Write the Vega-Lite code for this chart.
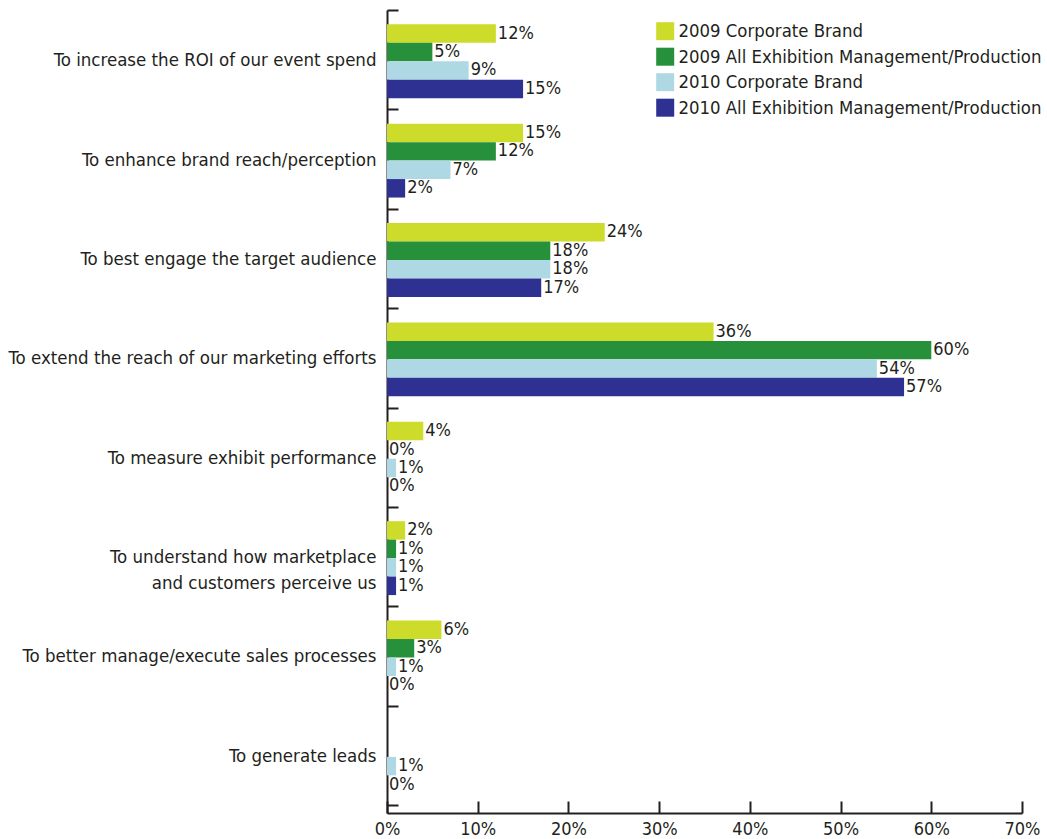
{
  "$schema": "https://vega.github.io/schema/vega-lite/v6.json",
  "autosize": {"type": "none"},
  "padding": {"left": 387, "top": 10, "right": 25, "bottom": 26},
  "width": 635,
  "height": 803,
  "background": "white",
  "config": {
    "view": {"stroke": null},
    "font": "DejaVu Sans Condensed, Roboto",
    "text": {"font": "DejaVu Sans Condensed, Roboto"}
  },
  "data": {
    "values": [
      {"category": "To increase the ROI of our event spend", "series": "2009 Corporate Brand", "pct": 0.12},
      {"category": "To increase the ROI of our event spend", "series": "2009 All Exhibition Management/Production", "pct": 0.05},
      {"category": "To increase the ROI of our event spend", "series": "2010 Corporate Brand", "pct": 0.09},
      {"category": "To increase the ROI of our event spend", "series": "2010 All Exhibition Management/Production", "pct": 0.15},
      {"category": "To enhance brand reach/perception", "series": "2009 Corporate Brand", "pct": 0.15},
      {"category": "To enhance brand reach/perception", "series": "2009 All Exhibition Management/Production", "pct": 0.12},
      {"category": "To enhance brand reach/perception", "series": "2010 Corporate Brand", "pct": 0.07},
      {"category": "To enhance brand reach/perception", "series": "2010 All Exhibition Management/Production", "pct": 0.02},
      {"category": "To best engage the target audience", "series": "2009 Corporate Brand", "pct": 0.24},
      {"category": "To best engage the target audience", "series": "2009 All Exhibition Management/Production", "pct": 0.18},
      {"category": "To best engage the target audience", "series": "2010 Corporate Brand", "pct": 0.18},
      {"category": "To best engage the target audience", "series": "2010 All Exhibition Management/Production", "pct": 0.17},
      {"category": "To extend the reach of our marketing efforts", "series": "2009 Corporate Brand", "pct": 0.36},
      {"category": "To extend the reach of our marketing efforts", "series": "2009 All Exhibition Management/Production", "pct": 0.60},
      {"category": "To extend the reach of our marketing efforts", "series": "2010 Corporate Brand", "pct": 0.54},
      {"category": "To extend the reach of our marketing efforts", "series": "2010 All Exhibition Management/Production", "pct": 0.57},
      {"category": "To measure exhibit performance", "series": "2009 Corporate Brand", "pct": 0.04},
      {"category": "To measure exhibit performance", "series": "2009 All Exhibition Management/Production", "pct": 0},
      {"category": "To measure exhibit performance", "series": "2010 Corporate Brand", "pct": 0.01},
      {"category": "To measure exhibit performance", "series": "2010 All Exhibition Management/Production", "pct": 0},
      {"category": "To understand how marketplace|and customers perceive us", "series": "2009 Corporate Brand", "pct": 0.02},
      {"category": "To understand how marketplace|and customers perceive us", "series": "2009 All Exhibition Management/Production", "pct": 0.01},
      {"category": "To understand how marketplace|and customers perceive us", "series": "2010 Corporate Brand", "pct": 0.01},
      {"category": "To understand how marketplace|and customers perceive us", "series": "2010 All Exhibition Management/Production", "pct": 0.01},
      {"category": "To better manage/execute sales processes", "series": "2009 Corporate Brand", "pct": 0.06},
      {"category": "To better manage/execute sales processes", "series": "2009 All Exhibition Management/Production", "pct": 0.03},
      {"category": "To better manage/execute sales processes", "series": "2010 Corporate Brand", "pct": 0.01},
      {"category": "To better manage/execute sales processes", "series": "2010 All Exhibition Management/Production", "pct": 0},
      {"category": "To generate leads", "series": "2010 Corporate Brand", "pct": 0.01},
      {"category": "To generate leads", "series": "2010 All Exhibition Management/Production", "pct": 0}
    ]
  },
  "encoding": {
    "y": {
      "field": "category",
      "type": "nominal",
      "sort": null,
      "scale": {"paddingInner": 0, "paddingOuter": 0.04, "align": 0},
      "axis": {
        "title": null,
        "tickBand": "extent",
        "tickSize": -11,
        "tickWidth": 2,
        "tickColor": "#231f20",
        "domainColor": "#231f20",
        "domainWidth": 2,
        "labelFontSize": 18.5,
        "labelColor": "#231f20",
        "labelPadding": 22,
        "labelLineHeight": 26,
        "labelLimit": 400,
        "labelExpr": "split(datum.label, '|')"
      }
    },
    "yOffset": {
      "field": "series",
      "type": "nominal",
      "sort": ["2009 Corporate Brand", "2009 All Exhibition Management/Production", "2010 Corporate Brand", "2010 All Exhibition Management/Production"],
      "scale": {"paddingInner": 0, "paddingOuter": 0.69, "align": 0.56}
    },
    "x": {
      "field": "pct",
      "type": "quantitative",
      "scale": {"domain": [0, 0.7], "nice": false},
      "axis": {
        "title": null,
        "values": [0, 0.1, 0.2, 0.3, 0.4, 0.5, 0.6, 0.7],
        "format": ".0%",
        "grid": false,
        "tickSize": -12,
        "tickWidth": 2,
        "tickColor": "#231f20",
        "domainColor": "#231f20",
        "domainWidth": 2,
        "labelFontSize": 18,
        "labelColor": "#231f20",
        "labelPadding": 19,
        "labelFlush": false
      }
    }
  },
  "layer": [
    {
      "mark": {"type": "bar"},
      "encoding": {
        "color": {
          "field": "series",
          "type": "nominal",
          "sort": ["2009 Corporate Brand", "2009 All Exhibition Management/Production", "2010 Corporate Brand", "2010 All Exhibition Management/Production"],
          "scale": {
            "domain": ["2009 Corporate Brand", "2009 All Exhibition Management/Production", "2010 Corporate Brand", "2010 All Exhibition Management/Production"],
            "range": ["#cddc2a", "#26903a", "#aed9e4", "#2e3192"]
          },
          "legend": {
            "title": null,
            "orient": "none",
            "legendX": 269,
            "legendY": 12,
            "padding": 0,
            "symbolType": "square",
            "symbolSize": 324,
            "symbolStrokeWidth": 0,
            "symbolOpacity": 1,
            "labelFontSize": 18.4,
            "labelColor": "#231f20",
            "labelOffset": 4,
            "labelLimit": 400,
            "rowPadding": 6.5
          }
        }
      }
    },
    {
      "mark": {"type": "text", "align": "left", "baseline": "middle", "dx": 2, "fontSize": 18, "color": "#231f20"},
      "encoding": {
        "text": {"field": "pct", "type": "quantitative", "format": ".0%"},
        "detail": {"field": "series"}
      }
    }
  ]
}
